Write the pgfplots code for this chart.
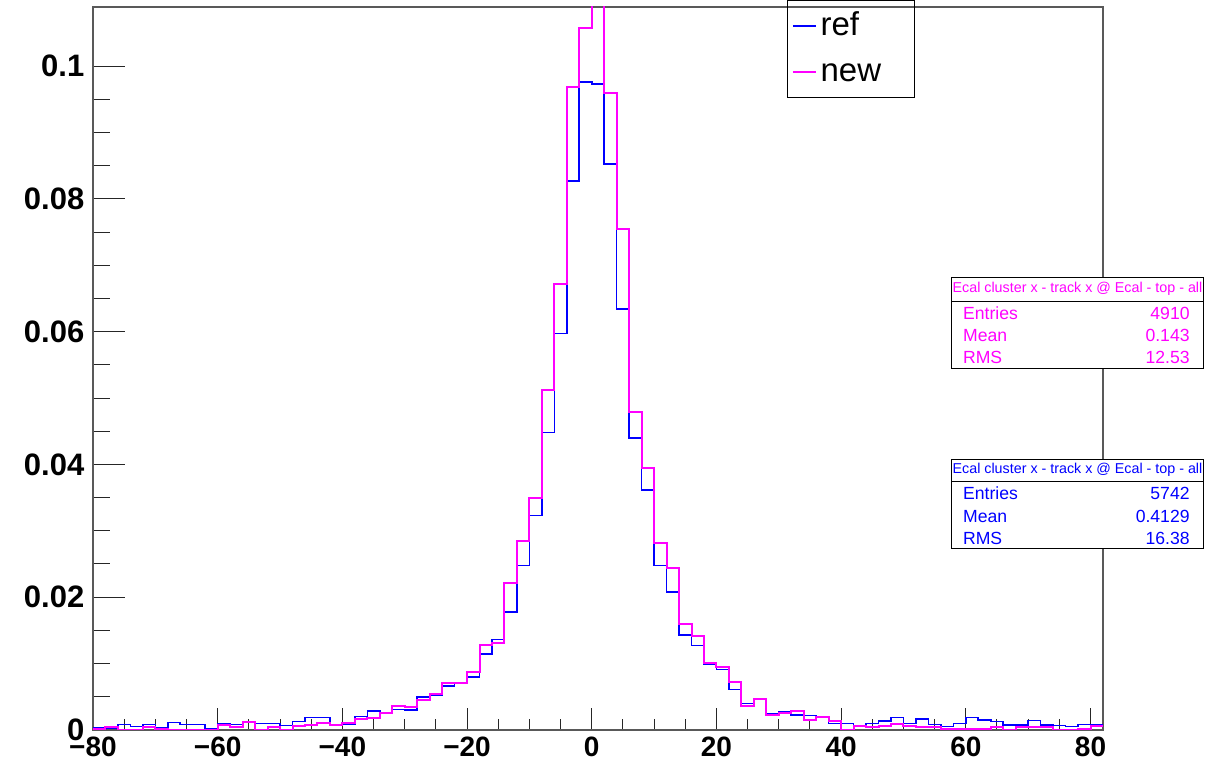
\documentclass[border=0pt]{standalone}
\usepackage{fontspec}
\setmainfont{Liberation Sans}
\usepackage{pgfplots}
\usepackage{pgfplotstable}
\pgfplotsset{compat=1.18}
\definecolor{rootblue}{RGB}{0,0,255}
\definecolor{rootmag}{RGB}{255,0,255}

% bin left edges, bin width 2, normalised contents
\pgfplotstableread{
x y
-80 0.0003
-78 0.0002
-76 0.0008
-74 0.0005
-72 0.0008
-70 0.0003
-68 0.00115
-66 0.0008
-64 0.0008
-62 0.00025
-60 0.001
-58 0.0008
-56 0.0012
-54 0.001
-52 0.001
-50 0.00065
-48 0.00125
-46 0.0019
-44 0.0019
-42 0.00065
-40 0.0008
-38 0.00205
-36 0.0029
-34 0.0026
-32 0.0031
-30 0.0030
-28 0.0050
-26 0.0052
-24 0.0066
-22 0.0071
-20 0.0080
-18 0.0114
-16 0.0136
-14 0.0178
-12 0.0248
-10 0.0323
-8 0.0448
-6 0.0597
-4 0.0827
-2 0.0976
0 0.0973
2 0.0852
4 0.0634
6 0.0440
8 0.0361
10 0.0248
12 0.0208
14 0.0143
16 0.0127
18 0.0099
20 0.0091
22 0.0061
24 0.0040
26 0.0047
28 0.0024
30 0.0027
32 0.0023
34 0.0022
36 0.0020
38 0.0010
40 0.0010
42 0.00055
44 0.0010
46 0.00136
48 0.0019
50 0.0010
52 0.0017
54 0.00085
56 0.0005
58 0.0010
60 0.0019
62 0.0015
64 0.00125
66 0.00075
68 0.00075
70 0.0014
72 0.00075
74 0.00065
76 0.0005
78 0.0008
80 0.00085
82 0.00085
}\refdata

\pgfplotstableread{
x y
-80 0.0002
-78 0.0005
-76 0
-74 0
-72 0.0004
-70 0.0002
-68 0
-66 0
-64 0
-62 0
-60 0.0008
-58 0.00045
-56 0.0012
-54 0
-52 0.0004
-50 0
-48 0.00055
-46 0.00075
-44 0.001
-42 0.0008
-40 0.001
-38 0.00165
-36 0.0018
-34 0.0025
-32 0.0036
-30 0.0035
-28 0.0045
-26 0.0054
-24 0.0071
-22 0.0071
-20 0.0087
-18 0.0128
-16 0.0131
-14 0.0222
-12 0.0284
-10 0.0350
-8 0.0512
-6 0.0672
-4 0.0969
-2 0.1058
0 0.1120
2 0.0960
4 0.0754
6 0.0479
8 0.0394
10 0.0281
12 0.0244
14 0.0160
16 0.0141
18 0.0101
20 0.0095
22 0.0073
24 0.0036
26 0.0046
28 0.0022
30 0.0026
32 0.0029
34 0.0015
36 0.0019
38 0.0014
40 0
42 0.00055
44 0.0004
46 0.00055
48 0.00085
50 0.00055
52 0.0004
54 0.0004
56 0.00015
58 0.00015
60 0.00015
62 0.00015
64 0.0004
66 0
68 0.0004
70 0.0004
72 0.0004
74 0
76 0
78 0.00015
80 0.00055
82 0.00055
}\newdata

\begin{document}
\begin{tikzpicture}
\path[use as bounding box] (-46.5pt,-19.5pt) rectangle (559pt,365pt);
\begin{axis}[
  at={(0,0)}, anchor=south west,
  scale only axis, width=505pt, height=361.5pt,
  xmin=-80, xmax=82, ymin=0, ymax=0.10889,
  xtick={-80,-60,...,80},
  xticklabels={−80,−60,−40,−20,0,20,40,60,80},
  ytick={0,0.02,0.04,0.06,0.08,0.1},
  yticklabels={0,0.02,0.04,0.06,0.08,0.1},
  minor x tick num=3, minor y tick num=3,
  tick align=inside, xtick pos=left, ytick pos=left,
  major tick length=11pt, minor tick length=5.5pt,
  ytick style={/pgfplots/major tick length=16pt, /pgfplots/minor tick length=8.5pt},
  xticklabel style={font=\fontsize{14}{16}\selectfont\bfseries},
  yticklabel style={font=\fontsize{15.5}{17}\selectfont\bfseries, xshift=-0.8pt},
  axis line style={black!65, line width=0.7pt},
  every tick/.style={black!85, line width=0.5pt},
  legend style={at={(axis description cs:0.687,1.0097)}, anchor=north west,
    draw=black, line width=0.5pt, fill=none,
    inner xsep=2.5pt, inner ysep=3.75pt,
    font=\fontsize{16.5}{19}\selectfont,
    nodes={inner sep=0pt, text height=14pt, text depth=4pt, anchor=west},
    row sep=5pt, column sep=2pt},
  legend image code/.code={\draw[#1, line width=0.6pt] (0pt,0pt) -- (11.5pt,0pt);},
]
\addplot[const plot, draw=rootblue, line width=0.8pt] table {\refdata};
\addlegendentry{ref}
\addplot[const plot, draw=rootmag, line width=1.0pt] table {\newdata};
\addlegendentry{new\hspace*{14pt}}
\end{axis}

% statistics boxes
\begin{scope}[every node/.style={inner sep=0pt}]
\draw[fill=white, line width=0.5pt] (429.35pt,180.85pt) rectangle (555.15pt,226.35pt);
\draw[line width=0.5pt] (429.35pt,214.15pt) -- (555.15pt,214.15pt);
\node[anchor=base, rootmag, font=\fontsize{7.15}{9}\selectfont] at (492.25pt,218.65pt) {Ecal cluster x - track x @ Ecal - top - all};
\begin{scope}[rootmag, font=\fontsize{8.8}{10}\selectfont]
\node[anchor=base west] at (434.85pt,205.35pt) {Entries};
\node[anchor=base east] at (548.5pt,205.35pt) {4910};
\node[anchor=base west] at (434.85pt,194.15pt) {Mean};
\node[anchor=base east] at (548.5pt,194.15pt) {0.143};
\node[anchor=base west] at (434.85pt,183.35pt) {RMS};
\node[anchor=base east] at (548.5pt,183.35pt) {12.53};
\end{scope}

\draw[fill=white, line width=0.5pt] (429.35pt,90.85pt) rectangle (555.15pt,135.35pt);
\draw[line width=0.5pt] (429.35pt,124.35pt) -- (555.15pt,124.35pt);
\node[anchor=base, rootblue, font=\fontsize{7.15}{9}\selectfont] at (492.25pt,128pt) {Ecal cluster x - track x @ Ecal - top - all};
\begin{scope}[rootblue, font=\fontsize{8.8}{10}\selectfont]
\node[anchor=base west] at (434.85pt,115pt) {Entries};
\node[anchor=base east] at (548.5pt,115pt) {5742};
\node[anchor=base west] at (434.85pt,103.85pt) {Mean};
\node[anchor=base east] at (548.5pt,103.85pt) {0.4129};
\node[anchor=base west] at (434.85pt,92.5pt) {RMS};
\node[anchor=base east] at (548.5pt,92.5pt) {16.38};
\end{scope}
\end{scope}
\end{tikzpicture}
\end{document}
